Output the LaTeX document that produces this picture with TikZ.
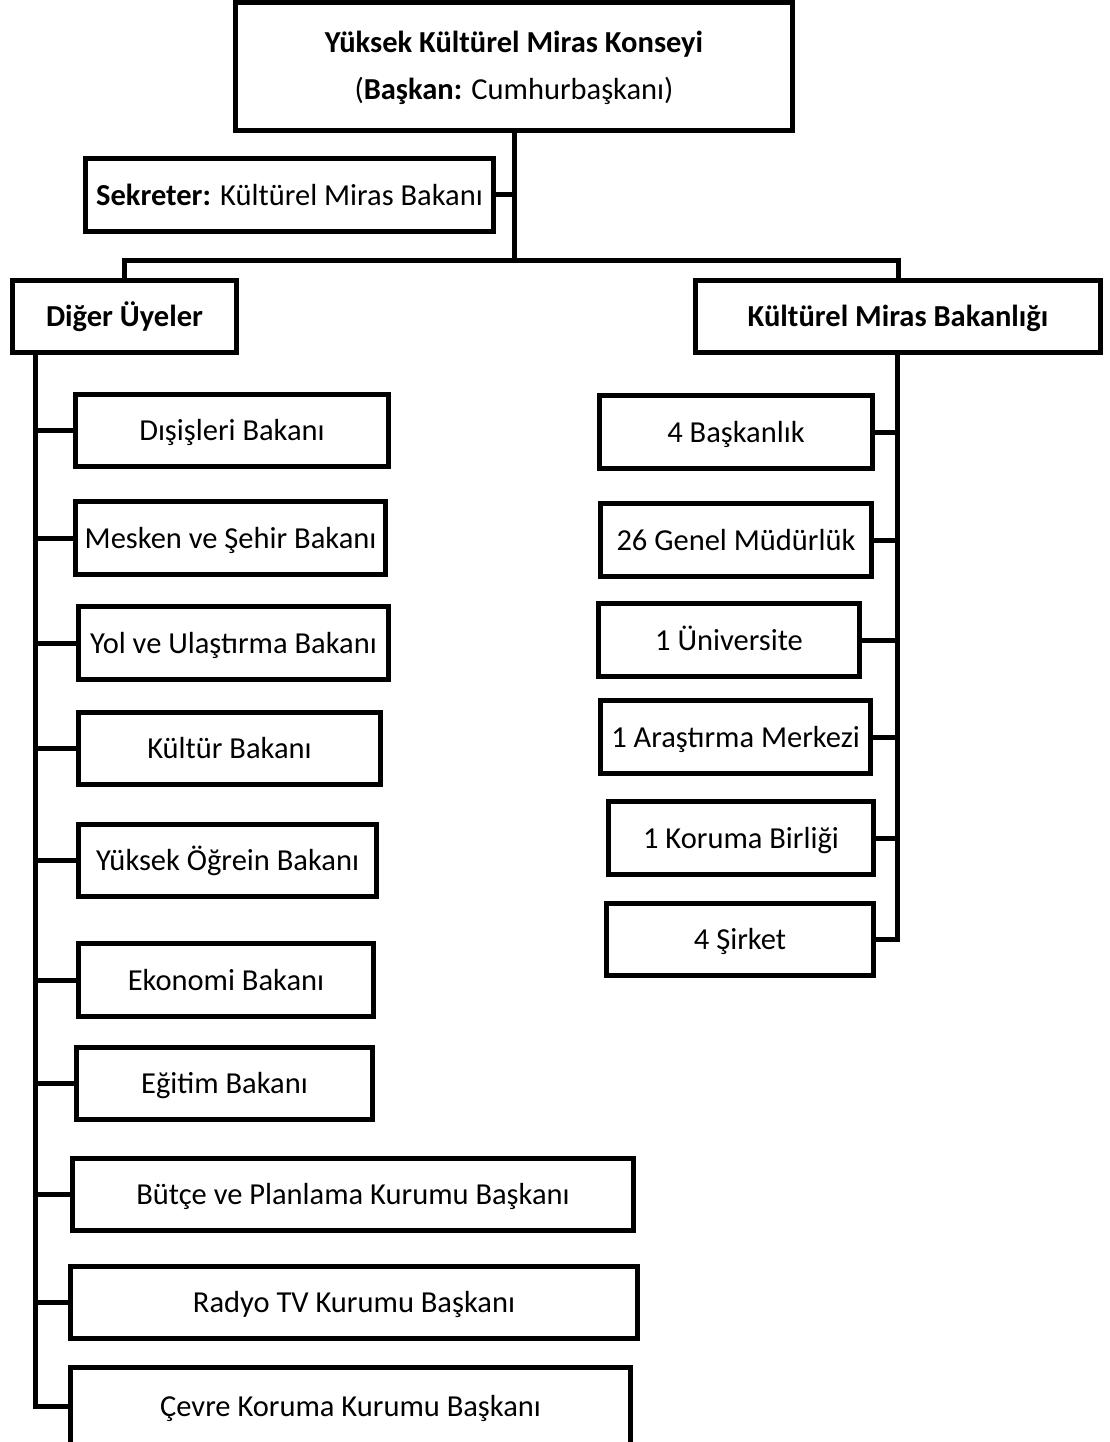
\documentclass[tikz,border=0pt]{standalone}
\usepackage{fontspec}
\setmainfont{Carlito}
\begin{document}
\begin{tikzpicture}[x=1pt,y=-1pt,
  boxbase/.style={draw=black, line width=5pt, rectangle, inner sep=0pt, align=center,
    font=\fontsize{30.5}{47}\selectfont},
  box/.style={boxbase, text height=22pt, text depth=2pt},
  link/.style={draw=black, line width=5pt, line join=miter}]
\useasboundingbox (0,0) rectangle (1109,1442);
% top level
\node[boxbase, text depth=3pt, minimum width=557, minimum height=128] (top) at (514,66.5)
  {\textbf{Yüksek Kültürel Miras Konseyi}\\(\textbf{Başkan:} Cumhurbaşkanı)};
\node[box, minimum width=408, minimum height=73] (sek) at (289.5,195)
  {\textbf{Sekreter:} Kültürel Miras Bakanı};
\node[box, minimum width=224, minimum height=72] (dig) at (124.5,316.5) {\textbf{Diğer Üyeler}};
\node[box, minimum width=405, minimum height=72] (kmb) at (898,316.5) {\textbf{Kültürel Miras Bakanlığı}};
% left members
\node[box, minimum width=313, minimum height=72] (l1) at (232,430.5) {Dışişleri Bakanı};
\node[box, minimum width=310, minimum height=73] (l2) at (230.5,538) {Mesken ve Şehir Bakanı};
\node[box, minimum width=310, minimum height=73] (l3) at (233.5,643) {Yol ve Ulaştırma Bakanı};
\node[box, minimum width=302, minimum height=72] (l4) at (229.5,748.5) {Kültür Bakanı};
\node[box, minimum width=298, minimum height=72] (l5) at (227.5,860.5) {Yüksek Öğrein Bakanı};
\node[box, minimum width=295, minimum height=73] (l6) at (226,980) {Ekonomi Bakanı};
\node[box, minimum width=296, minimum height=72] (l7) at (224.5,1083.5) {Eğitim Bakanı};
\node[box, minimum width=561, minimum height=72] (l8) at (353,1194.5) {Bütçe ve Planlama Kurumu Başkanı};
\node[box, minimum width=567, minimum height=72] (l9) at (354,1302.5) {Radyo TV Kurumu Başkanı};
\node[box, minimum width=560, minimum height=78] (l10) at (350.5,1406.5) {Çevre Koruma Kurumu Başkanı};
% right units
\node[box, minimum width=273, minimum height=73] (r1) at (736,432) {4 Başkanlık};
\node[box, minimum width=271, minimum height=73] (r2) at (736,540) {26 Genel Müdürlük};
\node[box, minimum width=261, minimum height=73] (r3) at (729,640) {1 Üniversite};
\node[box, minimum width=270, minimum height=73] (r4) at (735.5,737) {1 Araştırma Merkezi};
\node[box, minimum width=265, minimum height=73] (r5) at (741,838) {1 Koruma Birliği};
\node[box, minimum width=267, minimum height=72] (r6) at (740,939.5) {4 Şirket};
% helper coordinates
\coordinate (bar) at (0,260);
\coordinate (lt) at (35,0);
\coordinate (rt) at (897,0);
% connectors
\draw[link] (top.south) -- (top.south |- bar);
\draw[link] (sek.east) -- (sek.east -| top.south);
\draw[link] (dig.north) -- (dig.north |- bar) -- (kmb.north |- bar) -- (kmb.north);
\draw[link] (lt |- dig.south) -- (lt |- l10.west) -- (l10.west);
\foreach \n in {l1,l2,l3,l4,l5,l6,l7,l8,l9}
  \draw[link] (\n.west) -- (\n.west -| lt);
\draw[link] (rt |- kmb.south) -- (rt |- r6.east) -- (r6.east);
\foreach \n in {r1,r2,r3,r4,r5}
  \draw[link] (\n.east) -- (\n.east -| rt);
\end{tikzpicture}
\end{document}
